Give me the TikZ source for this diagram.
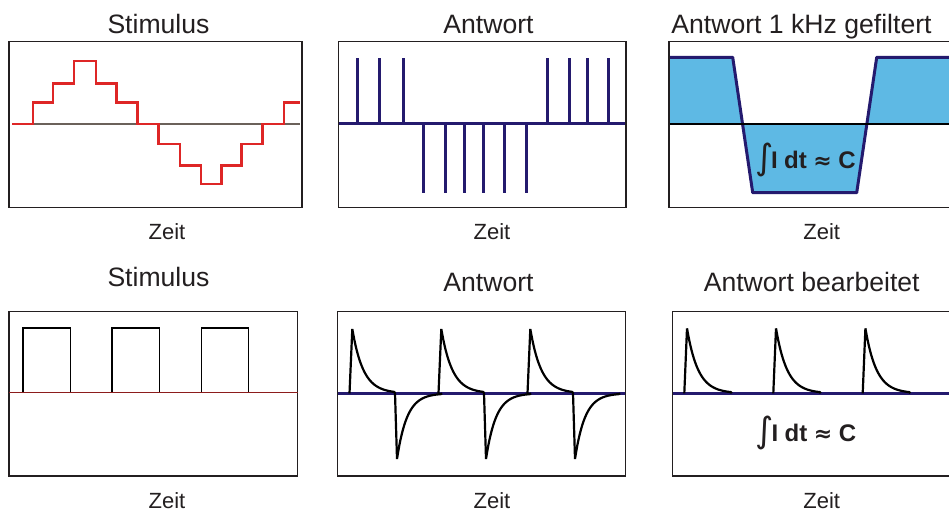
\documentclass[tikz,border=0pt]{standalone}
\usepackage{fontspec}
\setmainfont{Liberation Sans}
\newfontfamily\dejavu{DejaVu Sans}
\definecolor{navy}{RGB}{36,26,110}
\definecolor{stairred}{RGB}{222,38,38}
\definecolor{fillblue}{RGB}{94,185,228}
\definecolor{zerogray}{RGB}{107,97,90}
\definecolor{darkred}{RGB}{140,28,28}
\definecolor{boxgray}{RGB}{35,31,32}
\newcommand{\integtext}{{\dejavu\fontsize{35}{36}\mdseries\raisebox{-1pt}{∫}}\hspace{-2.5pt}I\hspace{6.5pt}dt\hspace{6.5pt}{\dejavu\bfseries\fontsize{22}{22}\selectfont ≈}\hspace{6.5pt}C}
\begin{document}
\begin{tikzpicture}[x=1pt,y=-1pt,
  title/.style={anchor=base,inner sep=0pt,font=\fontsize{26.6}{30}\selectfont,text=boxgray},
  zeit/.style={anchor=base,inner sep=0pt,font=\fontsize{22}{26}\selectfont,text=boxgray},
  integ/.style={anchor=base,inner sep=0pt,font=\fontsize{24}{28}\selectfont\bfseries,text=boxgray},
  frame/.style={draw=boxgray,line width=1.6pt},
  spike/.style={draw=navy,line width=3pt},
  wave/.style={draw=black,line width=2.2pt,line join=round},
  navyline/.style={draw=navy,line width=3pt}]
\clip (0,0) rectangle (949,512);
\fill[white] (0,0) rectangle (949,512);

% ---------- panel 1: Stimulus (staircase) ----------
\node[title] (t1) at (158.5,33) {Stimulus};
\draw[frame] (9,41.3) rectangle (302,207.3);
\draw[draw=zerogray,line width=1.5pt] (12,124) -- (300,124);
\draw[draw=stairred,line width=2.9pt]
  (12,124) -| (33,102.7) -| (53,83.7) -| (74,61) -| (96,83.7) -| (116.7,102.7)
  -| (137.7,124) -| (158.7,144) -| (180,165.7) -| (201,184) -| (221.7,165.7)
  -| (241.7,144) -| (262.7,124) -| (284,102.7) -- (300,102.7);
\node[zeit] (z1) at (167,239) {Zeit};

% ---------- panel 2: Antwort (spikes) ----------
\node[title] (t2) at (488.5,33) {Antwort};
\draw[frame] (338.3,41.3) rectangle (626,207.3);
\foreach \x in {357.3,379.3,403,547.7,569.3,587.3,608.3}
  \draw[spike] (\x,123.3) -- (\x,58.3);
\foreach \x in {423.7,445.3,464.3,483.3,504.3,526.3}
  \draw[spike] (\x,123.3) -- (\x,192.7);
\draw[navyline] (339,123.3) -- (625,123.3);
\node[zeit] (z2) at (492,239) {Zeit};

% ---------- panel 3: Antwort 1 kHz gefiltert ----------
\node[title] (t3) at (801.5,33) {Antwort 1 kHz gefiltert};
\fill[fillblue] (670,124) -- (670,57.3) -- (732.7,57.3) -- (752.7,192.7) -- (856.7,192.7)
  -- (876.7,57.3) -- (955,57.3) -- (955,124) -- cycle;
\draw[draw=navy,line width=3pt,line join=round] (670,57.3) -- (732.7,57.3) -- (752.7,192.7)
  -- (856.7,192.7) -- (876.7,57.3) -- (955,57.3);
\draw[draw=black,line width=1.8pt] (669,124) -- (955,124);
\draw[frame] (669,41.3) rectangle (960,207.3);
\node[integ] (i1) at (805.5,168) {\integtext};
\node[zeit] (z3) at (821.7,239) {Zeit};

% ---------- panel 4: Stimulus (pulses) ----------
\node[title] (t4) at (158.5,286.7) {Stimulus};
\draw[frame,line width=1.4pt] (9,311.7) rectangle (297.7,476);
\foreach \a/\b in {23/70.3,112/159.7,201.3/248.7}
  \draw[draw=black,line width=1.3pt] (\a,392.7) |- (\b,328) -- (\b,392.7);
\draw[draw=darkred,line width=1.3pt] (9,392.7) -- (297.7,392.7);
\node[zeit] (z4) at (167,508) {Zeit};

% ---------- panel 5: Antwort (exponential spikes) ----------
\node[title] (t5) at (488.5,291.7) {Antwort};
\draw[frame,line width=1.4pt] (337.7,311.7) rectangle (625.7,476);
\draw[navyline] (338,393.3) -- (625,393.3);
\foreach \o in {0,89,178}{
  \draw[wave] (349.5+\o,393.3) -- (352.3+\o,329)
    plot[domain=0:42,samples=40] ({352.3+\o+\x},{393.3-64.3*exp(-\x/11)})
    -- (395+\o,393.3) -- (397+\o,459)
    plot[domain=0:44,samples=40] ({397+\o+\x},{393.3+65.7*exp(-\x/10)})
    -- (442+\o,393.3);
}
\node[zeit] (z5) at (492,508) {Zeit};

% ---------- panel 6: Antwort bearbeitet ----------
\node[title] (t6) at (811.7,291.7) {Antwort bearbeitet};
\draw[frame,line width=1.4pt] (672.3,311.7) rectangle (960,476);
\draw[navyline] (673,393.3) -- (955,393.3);
\foreach \o in {0,89,178.4}
  \draw[wave] (684.3+\o,393.3) -- (687+\o,328.3)
    plot[domain=0:44,samples=40] ({687+\o+\x},{393.3-65*exp(-\x/11)})
    -- (731.7+\o,393.3);
\node[integ] (i2) at (806,441.7) {\integtext};
\node[zeit] (z6) at (821.7,508) {Zeit};
\end{tikzpicture}
\end{document}
